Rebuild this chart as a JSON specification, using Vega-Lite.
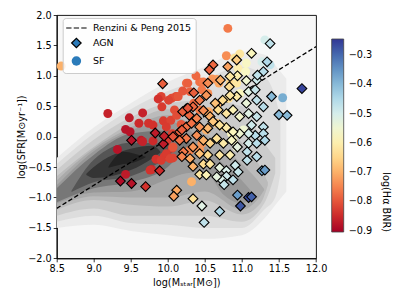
{
"$schema":"https://vega.github.io/schema/vega-lite/v6.json",
"width":259.3,"height":243.3,
"autosize":{"type":"none"},
"padding":{"left":56.7,"top":15,"right":83,"bottom":40.7},
"background":"white",
"config":{"font":"DejaVu Sans","view":{"stroke":"black","strokeWidth":0.9,"fill":"#f7f7f7"},
"legend":{"symbolBaseFillColor":"#2b7bba"},
"axis":{"labelFont":"DejaVu Sans","labelFontSize":9.7,"labelColor":"black","titleFont":"DejaVu Sans","titleFontSize":9.7,"titleFontWeight":"normal","titleColor":"black","tickColor":"black","domainColor":"black","tickSize":3.5,"tickWidth":0.8,"labelPadding":2,"grid":false,"labelFlush":false,"labelOverlap":false,"labelSeparation":-1000}},
"datasets":{
"kde":[
{"g":"L01","x":8.5,"y":-1.5,"y2":-0.35},{"g":"L01","x":9.0,"y":-1.45,"y2":0.15},{"g":"L01","x":9.5,"y":-1.55,"y2":0.55},{"g":"L01","x":10.0,"y":-1.62,"y2":0.9},{"g":"L01","x":10.5,"y":-1.68,"y2":1.15},{"g":"L01","x":11.0,"y":-1.62,"y2":1.4},{"g":"L01","x":11.3,"y":-1.35,"y2":1.35},{"g":"L01","x":11.5,"y":-1.05,"y2":1.1},{"g":"L01","x":11.6,"y":-0.9,"y2":0.95},
{"g":"L02","x":8.5,"y":-1.4,"y2":-0.45},{"g":"L02","x":9.0,"y":-1.3,"y2":0.05},{"g":"L02","x":9.5,"y":-1.42,"y2":0.45},{"g":"L02","x":10.0,"y":-1.45,"y2":0.75},{"g":"L02","x":10.5,"y":-1.5,"y2":0.95},{"g":"L02","x":11.0,"y":-1.5,"y2":1.15},{"g":"L02","x":11.3,"y":-1.2,"y2":1.0},{"g":"L02","x":11.45,"y":-1.0,"y2":0.65},{"g":"L02","x":11.52,"y":-0.6,"y2":0.3},
{"g":"L03","x":8.5,"y":-1.3,"y2":-0.55},{"g":"L03","x":9.0,"y":-1.18,"y2":-0.05},{"g":"L03","x":9.5,"y":-1.3,"y2":0.32},{"g":"L03","x":10.0,"y":-1.3,"y2":0.55},{"g":"L03","x":10.5,"y":-1.3,"y2":0.6},{"g":"L03","x":11.0,"y":-1.4,"y2":0.5},{"g":"L03","x":11.3,"y":-1.1,"y2":-0.1},{"g":"L03","x":11.45,"y":-0.6,"y2":-0.35},
{"g":"L04","x":8.5,"y":-1.2,"y2":-0.65},{"g":"L04","x":9.0,"y":-1.04,"y2":-0.17},{"g":"L04","x":9.5,"y":-1.12,"y2":0.22},{"g":"L04","x":10.0,"y":-1.15,"y2":0.45},{"g":"L04","x":10.5,"y":-1.05,"y2":0.35},{"g":"L04","x":11.0,"y":-1.28,"y2":-0.1},{"g":"L04","x":11.25,"y":-1.1,"y2":-0.5},{"g":"L04","x":11.35,"y":-0.8,"y2":-0.75},
{"g":"L05","x":8.5,"y":-1.15,"y2":-0.72},{"g":"L05","x":9.0,"y":-0.98,"y2":-0.2},{"g":"L05","x":9.5,"y":-1.0,"y2":0.15},{"g":"L05","x":10.0,"y":-1.0,"y2":0.35},{"g":"L05","x":10.5,"y":-0.9,"y2":0.05},{"g":"L05","x":11.0,"y":-1.2,"y2":-0.45},{"g":"L05","x":11.2,"y":-1.05,"y2":-0.7},{"g":"L05","x":11.3,"y":-0.88,"y2":-0.86},
{"g":"L06","x":8.5,"y":-1.1,"y2":-0.8},{"g":"L06","x":9.0,"y":-0.92,"y2":-0.24},{"g":"L06","x":9.5,"y":-0.9,"y2":0.1},{"g":"L06","x":10.0,"y":-0.7,"y2":0.25},{"g":"L06","x":10.25,"y":-0.6,"y2":0.15},{"g":"L06","x":10.5,"y":-0.58,"y2":-0.15},{"g":"L06","x":10.75,"y":-0.95,"y2":-0.45},{"g":"L06","x":11.0,"y":-1.1,"y2":-0.72},{"g":"L06","x":11.15,"y":-0.95,"y2":-0.93},
{"g":"L07","x":8.5,"y":-1.08,"y2":-0.85},{"g":"L07","x":9.0,"y":-0.85,"y2":-0.3},{"g":"L07","x":9.5,"y":-0.75,"y2":0.05},{"g":"L07","x":10.0,"y":-0.5,"y2":0.1},{"g":"L07","x":10.2,"y":-0.25,"y2":0.0},{"g":"L07","x":10.3,"y":-0.13,"y2":-0.11},
{"g":"L08","x":8.7,"y":-0.91,"y2":-0.89},{"g":"L08","x":9.0,"y":-0.75,"y2":-0.38},{"g":"L08","x":9.5,"y":-0.65,"y2":-0.1},{"g":"L08","x":10.0,"y":-0.32,"y2":-0.12},{"g":"L08","x":10.1,"y":-0.21,"y2":-0.2},
{"g":"L09","x":8.9,"y":-0.63,"y2":-0.61},{"g":"L09","x":9.0,"y":-0.68,"y2":-0.5},{"g":"L09","x":9.5,"y":-0.55,"y2":-0.2},{"g":"L09","x":9.8,"y":-0.35,"y2":-0.15},{"g":"L09","x":9.9,"y":-0.26,"y2":-0.25},
{"g":"L10","x":9.2,"y":-0.51,"y2":-0.49},{"g":"L10","x":9.4,"y":-0.45,"y2":-0.25},{"g":"L10","x":9.55,"y":-0.42,"y2":-0.28},{"g":"L10","x":9.7,"y":-0.34,"y2":-0.33}
],
"rp":[{"x":8.5,"y":-1.18},{"x":12.0,"y":1.48}],
"pts":[
{"t":"SF","x":10.81,"y":1.78,"v":-0.76},{"t":"SF","x":8.56,"y":1.16,"v":-0.70},{"t":"SF","x":9.19,"y":0.38,"v":-0.86},{"t":"SF","x":9.48,"y":0.31,"v":-0.87},{"t":"SF","x":9.66,"y":0.39,"v":-0.86},{"t":"SF","x":9.61,"y":0.22,"v":-0.85},{"t":"SF","x":9.43,"y":0.12,"v":-0.88},{"t":"SF","x":9.49,"y":0.08,"v":-0.88},{"t":"SF","x":9.74,"y":0.22,"v":-0.84},{"t":"SF","x":9.80,"y":0.19,"v":-0.84},{"t":"SF","x":9.64,"y":-0.06,"v":-0.87},{"t":"SF","x":9.66,"y":-0.08,"v":-0.86},{"t":"SF","x":9.80,"y":-0.07,"v":-0.85},{"t":"SF","x":9.32,"y":-0.21,"v":-0.88},{"t":"SF","x":9.43,"y":-0.62,"v":-0.87},{"t":"SF","x":9.78,"y":-0.54,"v":-0.85},{"t":"SF","x":9.91,"y":0.66,"v":-0.82},{"t":"SF","x":9.92,"y":0.49,"v":-0.83},{"t":"SF","x":9.94,"y":0.26,"v":-0.83},{"t":"SF","x":10.04,"y":0.27,"v":-0.82},{"t":"SF","x":9.98,"y":0.16,"v":-0.83},{"t":"SF","x":10.06,"y":0.05,"v":-0.82},{"t":"SF","x":9.99,"y":-0.06,"v":-0.83},{"t":"SF","x":10.06,"y":-0.19,"v":-0.82},{"t":"SF","x":9.84,"y":-0.37,"v":-0.84},{"t":"SF","x":9.95,"y":-0.33,"v":-0.83},{"t":"SF","x":10.02,"y":-0.35,"v":-0.82},{"t":"SF","x":10.07,"y":-0.35,"v":-0.82},{"t":"SF","x":10.09,"y":0.44,"v":-0.81},{"t":"SF","x":10.25,"y":0.88,"v":-0.78},{"t":"SF","x":10.11,"y":0.66,"v":-0.81},{"t":"SF","x":10.27,"y":0.88,"v":-0.79},{"t":"SF","x":10.43,"y":0.90,"v":-0.77},{"t":"SF","x":10.48,"y":0.90,"v":-0.76},{"t":"SF","x":10.66,"y":0.94,"v":-0.72},{"t":"SF","x":10.69,"y":0.88,"v":-0.71},{"t":"SF","x":10.79,"y":1.33,"v":-0.74},{"t":"SF","x":10.97,"y":1.36,"v":-0.62},{"t":"SF","x":10.90,"y":1.29,"v":-0.63},{"t":"SF","x":11.06,"y":1.21,"v":-0.57},{"t":"SF","x":11.27,"y":1.23,"v":-0.50},{"t":"SF","x":11.38,"y":1.18,"v":-0.47},{"t":"SF","x":11.31,"y":1.59,"v":-0.50},{"t":"SF","x":11.55,"y":0.64,"v":-0.38},{"t":"SF","x":10.05,"y":0.63,"v":-0.81},{"t":"SF","x":10.14,"y":0.66,"v":-0.80},{"t":"SF","x":10.30,"y":0.74,"v":-0.79},{"t":"SF","x":10.46,"y":0.77,"v":-0.76},{"t":"SF","x":10.54,"y":0.71,"v":-0.74},{"t":"SF","x":10.84,"y":0.88,"v":-0.65},{"t":"SF","x":10.93,"y":0.88,"v":-0.62},{"t":"SF","x":10.97,"y":0.71,"v":-0.58},{"t":"SF","x":10.82,"y":0.63,"v":-0.64},{"t":"SF","x":10.66,"y":0.52,"v":-0.70},{"t":"SF","x":10.55,"y":0.41,"v":-0.71},{"t":"SF","x":10.43,"y":0.44,"v":-0.76},{"t":"SF","x":10.66,"y":0.22,"v":-0.68},{"t":"SF","x":10.77,"y":0.16,"v":-0.63},{"t":"SF","x":10.88,"y":-0.06,"v":-0.58},{"t":"SF","x":10.93,"y":-0.17,"v":-0.56},{"t":"SF","x":10.86,"y":0.05,"v":-0.58},{"t":"SF","x":10.52,"y":0.11,"v":-0.70},{"t":"SF","x":10.46,"y":-0.11,"v":-0.73},{"t":"SF","x":10.30,"y":-0.22,"v":-0.75},{"t":"SF","x":10.32,"y":-0.74,"v":-0.70},{"t":"SF","x":10.16,"y":-0.03,"v":-0.78},{"t":"SF","x":10.07,"y":-0.17,"v":-0.80},{"t":"SF","x":9.98,"y":-0.28,"v":-0.83},{"t":"SF","x":9.91,"y":-0.39,"v":-0.83},{"t":"SF","x":9.76,"y":-0.55,"v":-0.84},{"t":"SF","x":10.03,"y":-0.36,"v":-0.82},{"t":"SF","x":11.02,"y":0.11,"v":-0.55},{"t":"SF","x":10.43,"y":-0.22,"v":-0.73},{"t":"SF","x":10.20,"y":0.75,"v":-0.80},{"t":"SF","x":10.38,"y":1.00,"v":-0.78},{"t":"SF","x":10.60,"y":0.95,"v":-0.73},{"t":"SF","x":10.95,"y":1.12,"v":-0.60},{"t":"SF","x":11.05,"y":1.07,"v":-0.57},{"t":"SF","x":10.35,"y":0.55,"v":-0.78},{"t":"SF","x":10.12,"y":0.35,"v":-0.81},{"t":"SF","x":10.18,"y":0.20,"v":-0.80},{"t":"SF","x":9.87,"y":0.62,"v":-0.84},{"t":"SF","x":10.01,"y":0.60,"v":-0.82},
{"t":"AGN","x":9.93,"y":0.87,"v":-0.79},{"t":"AGN","x":9.51,"y":-0.06,"v":-0.88},{"t":"AGN","x":9.36,"y":-0.73,"v":-0.89},{"t":"AGN","x":9.51,"y":-0.77,"v":-0.88},{"t":"AGN","x":9.70,"y":-0.82,"v":-0.84},{"t":"AGN","x":9.83,"y":0.06,"v":-0.87},{"t":"AGN","x":9.94,"y":-0.12,"v":-0.87},{"t":"AGN","x":9.95,"y":0.01,"v":-0.86},{"t":"AGN","x":9.89,"y":-0.56,"v":-0.85},{"t":"AGN","x":10.12,"y":-0.88,"v":-0.71},{"t":"AGN","x":10.08,"y":-0.98,"v":-0.72},{"t":"AGN","x":10.34,"y":-1.02,"v":-0.63},{"t":"AGN","x":10.46,"y":-1.14,"v":-0.52},{"t":"AGN","x":10.49,"y":-1.41,"v":-0.47},{"t":"AGN","x":10.70,"y":-1.23,"v":-0.45},{"t":"AGN","x":10.94,"y":-0.96,"v":-0.36},{"t":"AGN","x":10.98,"y":-1.14,"v":-0.28},{"t":"AGN","x":11.09,"y":-1.0,"v":-0.27},{"t":"AGN","x":11.13,"y":-0.99,"v":-0.29},{"t":"AGN","x":11.81,"y":0.79,"v":-0.26},{"t":"AGN","x":11.27,"y":-0.56,"v":-0.37},{"t":"AGN","x":11.31,"y":-0.55,"v":-0.36},{"t":"AGN","x":11.50,"y":0.36,"v":-0.40},{"t":"AGN","x":11.61,"y":0.35,"v":-0.40},{"t":"AGN","x":11.40,"y":0.66,"v":-0.40},{"t":"AGN","x":11.38,"y":1.53,"v":-0.47},{"t":"AGN","x":11.34,"y":1.23,"v":-0.45},{"t":"AGN","x":11.29,"y":1.07,"v":-0.46},{"t":"AGN","x":11.13,"y":1.37,"v":-0.58},{"t":"AGN","x":10.93,"y":1.26,"v":-0.66},{"t":"AGN","x":10.81,"y":1.15,"v":-0.72},{"t":"AGN","x":10.61,"y":1.18,"v":-0.78},{"t":"AGN","x":10.56,"y":1.10,"v":-0.79},{"t":"AGN","x":10.54,"y":0.88,"v":-0.74},{"t":"AGN","x":10.71,"y":0.93,"v":-0.70},{"t":"AGN","x":10.83,"y":0.82,"v":-0.64},{"t":"AGN","x":10.94,"y":1.0,"v":-0.60},{"t":"AGN","x":11.06,"y":0.92,"v":-0.55},{"t":"AGN","x":11.09,"y":0.74,"v":-0.52},{"t":"AGN","x":11.18,"y":0.77,"v":-0.48},{"t":"AGN","x":11.20,"y":0.93,"v":-0.49},{"t":"AGN","x":11.20,"y":0.60,"v":-0.47},{"t":"AGN","x":11.29,"y":0.49,"v":-0.46},{"t":"AGN","x":11.06,"y":0.55,"v":-0.54},{"t":"AGN","x":10.93,"y":0.66,"v":-0.61},{"t":"AGN","x":10.84,"y":0.68,"v":-0.62},{"t":"AGN","x":10.74,"y":0.60,"v":-0.64},{"t":"AGN","x":10.64,"y":0.55,"v":-0.68},{"t":"AGN","x":10.52,"y":0.68,"v":-0.73},{"t":"AGN","x":10.43,"y":0.60,"v":-0.76},{"t":"AGN","x":10.35,"y":0.72,"v":-0.79},{"t":"AGN","x":10.34,"y":0.49,"v":-0.78},{"t":"AGN","x":10.25,"y":0.46,"v":-0.80},{"t":"AGN","x":10.20,"y":0.41,"v":-0.79},{"t":"AGN","x":10.29,"y":0.35,"v":-0.78},{"t":"AGN","x":10.39,"y":0.30,"v":-0.75},{"t":"AGN","x":10.48,"y":0.43,"v":-0.74},{"t":"AGN","x":10.57,"y":0.33,"v":-0.70},{"t":"AGN","x":10.68,"y":0.44,"v":-0.64},{"t":"AGN","x":10.79,"y":0.38,"v":-0.62},{"t":"AGN","x":10.88,"y":0.44,"v":-0.59},{"t":"AGN","x":10.97,"y":0.33,"v":-0.56},{"t":"AGN","x":11.09,"y":0.38,"v":-0.52},{"t":"AGN","x":11.20,"y":0.33,"v":-0.48},{"t":"AGN","x":11.13,"y":0.19,"v":-0.49},{"t":"AGN","x":11.29,"y":0.16,"v":-0.47},{"t":"AGN","x":11.18,"y":0.02,"v":-0.46},{"t":"AGN","x":11.29,"y":0.05,"v":-0.46},{"t":"AGN","x":11.31,"y":-0.06,"v":-0.45},{"t":"AGN","x":11.09,"y":0.05,"v":-0.50},{"t":"AGN","x":11.09,"y":-0.11,"v":-0.50},{"t":"AGN","x":11.20,"y":-0.11,"v":-0.46},{"t":"AGN","x":10.97,"y":0.05,"v":-0.55},{"t":"AGN","x":10.88,"y":0.08,"v":-0.58},{"t":"AGN","x":10.79,"y":0.15,"v":-0.61},{"t":"AGN","x":10.70,"y":0.19,"v":-0.63},{"t":"AGN","x":10.61,"y":0.25,"v":-0.67},{"t":"AGN","x":10.54,"y":0.14,"v":-0.69},{"t":"AGN","x":10.43,"y":0.16,"v":-0.73},{"t":"AGN","x":10.25,"y":0.16,"v":-0.77},{"t":"AGN","x":10.16,"y":0.08,"v":-0.78},{"t":"AGN","x":10.07,"y":0.0,"v":-0.80},{"t":"AGN","x":10.25,"y":-0.03,"v":-0.76},{"t":"AGN","x":10.39,"y":0.02,"v":-0.74},{"t":"AGN","x":10.48,"y":-0.06,"v":-0.70},{"t":"AGN","x":10.57,"y":-0.11,"v":-0.65},{"t":"AGN","x":10.66,"y":-0.03,"v":-0.63},{"t":"AGN","x":10.75,"y":-0.11,"v":-0.61},{"t":"AGN","x":10.86,"y":-0.06,"v":-0.57},{"t":"AGN","x":10.94,"y":-0.17,"v":-0.53},{"t":"AGN","x":10.84,"y":-0.30,"v":-0.60},{"t":"AGN","x":10.70,"y":-0.30,"v":-0.62},{"t":"AGN","x":10.54,"y":-0.30,"v":-0.64},{"t":"AGN","x":10.43,"y":-0.28,"v":-0.68},{"t":"AGN","x":10.34,"y":-0.17,"v":-0.73},{"t":"AGN","x":10.21,"y":-0.25,"v":-0.76},{"t":"AGN","x":10.19,"y":-0.33,"v":-0.75},{"t":"AGN","x":10.30,"y":-0.36,"v":-0.71},{"t":"AGN","x":10.34,"y":-0.49,"v":-0.70},{"t":"AGN","x":10.48,"y":-0.45,"v":-0.64},{"t":"AGN","x":10.57,"y":-0.45,"v":-0.62},{"t":"AGN","x":10.70,"y":-0.51,"v":-0.53},{"t":"AGN","x":10.79,"y":-0.56,"v":-0.51},{"t":"AGN","x":10.91,"y":-0.47,"v":-0.49},{"t":"AGN","x":10.95,"y":-0.58,"v":-0.48},{"t":"AGN","x":11.07,"y":-0.25,"v":-0.47},{"t":"AGN","x":11.20,"y":-0.33,"v":-0.46},{"t":"AGN","x":11.07,"y":-0.39,"v":-0.47},{"t":"AGN","x":10.79,"y":-0.65,"v":-0.49},{"t":"AGN","x":10.73,"y":-0.71,"v":-0.51},{"t":"AGN","x":10.76,"y":-0.79,"v":-0.48},{"t":"AGN","x":10.88,"y":-0.71,"v":-0.47},{"t":"AGN","x":10.43,"y":-0.62,"v":-0.62},{"t":"AGN","x":10.52,"y":-0.63,"v":-0.59},{"t":"AGN","x":10.66,"y":-0.66,"v":-0.53},{"t":"AGN","x":10.19,"y":0.11,"v":-0.79},{"t":"AGN","x":10.16,"y":-0.06,"v":-0.77},{"t":"AGN","x":10.84,"y":0.99,"v":-0.62},{"t":"AGN","x":11.21,"y":1.01,"v":-0.47},{"t":"AGN","x":10.27,"y":0.47,"v":-0.80},{"t":"AGN","x":10.32,"y":0.22,"v":-0.77}
]},
"encoding":{
 "x":{"field":"x","type":"quantitative","scale":{"domain":[8.5,12],"nice":false,"zero":false},
  "axis":{"values":[8.5,9,9.5,10,10.5,11,11.5,12],"format":".1f","labelOverlap":false,"labelSeparation":-1000,"labelFlush":false,"title":"log(Mₛₜₐᵣ[M⊙])","titlePadding":4}},
 "y":{"field":"y","type":"quantitative","scale":{"domain":[-2,2],"nice":false,"zero":false},
  "axis":{"values":[-2,-1.5,-1,-0.5,0,0.5,1,1.5,2],"format":".1f","labelOverlap":false,"labelSeparation":-1000,"labelExpr":"replace(datum.label,'-','−')","title":"log(SFR[M⊙yr⁻¹])","titlePadding":1}}
},
"layer":[
{"data":{"name":"kde"},"mark":{"type":"area","interpolate":"monotone","strokeWidth":0,"clip":true},
 "encoding":{
  "y2":{"field":"y2"},
  "fill":{"field":"g","type":"nominal","legend":null,"scale":{"domain":["L01","L02","L03","L04","L05","L06","L07","L08","L09","L10"],"range":["#ebebeb","#dddddd","#cccccc","#bbbbbb","#aaaaaa","#999999","#777777","#555555","#353535","#222222"]}}
 }},
{"data":{"name":"rp"},"mark":{"type":"line","color":"black","strokeWidth":1.3,"strokeDash":[4.5,2.4],"clip":true},
 "encoding":{}},
{"data":{"name":"pts"},
 "mark":{"type":"point","filled":true,"opacity":1,"strokeWidth":1.1},
 "encoding":{
  "size":{"condition":{"test":"datum.t==='AGN'","value":95},"value":80},
  "color":{"field":"v","type":"quantitative","scale":{"scheme":"redyellowblue","domain":[-0.905,-0.245]},
   "legend":{"orient":"none","legendX":275,"legendY":24,"direction":"vertical","gradientLength":193,"gradientThickness":12,"gradientStrokeColor":"#444","gradientStrokeWidth":0.8,"values":[-0.9,-0.8,-0.7,-0.6,-0.5,-0.4,-0.3],"format":".1f","labelExpr":"replace(datum.label,'-','−')","labelFont":"DejaVu Sans","labelFontSize":9.7,"labelColor":"black","labelOffset":5,"labelBaseline":"middle","labelOverlap":false,"title":"\u00a0\u00a0\u00a0\u00a0\u00a0\u00a0\u00a0\u00a0\u00a0\u00a0\u00a0\u00a0\u00a0\u00a0\u00a0\u00a0\u00a0\u00a0\u00a0\u00a0log(Hα BNR)","titleFont":"DejaVu Sans","titleFontSize":9.7,"titleFontWeight":"normal","titleColor":"black","titleOrient":"right","titleAngle":270,"titleAnchor":"start","titlePadding":8,"padding":0}},
  "shape":{"field":"t","type":"nominal","scale":{"domain":["Renzini & Peng 2015","AGN","SF"],"range":["M-2.15,0H-1.03M-0.56,0H0.56M1.03,0H2.15","diamond","circle"]},
   "legend":{"orient":"none","legendX":6,"legendY":3,"title":null,"padding":4.5,"symbolSize":90,"symbolStrokeWidth":1.2,"symbolOffset":3.7,"labelOffset":11,"rowPadding":3,"labelFont":"DejaVu Sans","labelFontSize":9.5,"labelColor":"black","fillColor":"rgba(255,255,255,0.8)","strokeColor":"#cccccc","cornerRadius":3}},
  "stroke":{"field":"t","type":"nominal","scale":{"domain":["Renzini & Peng 2015","AGN","SF"],"range":["black","black","transparent"]},
   "legend":{"orient":"none","legendX":6,"legendY":3,"title":null,"padding":4.5,"symbolSize":90,"symbolStrokeWidth":1.2,"symbolOffset":3.7,"labelOffset":11,"rowPadding":3,"labelFont":"DejaVu Sans","labelFontSize":9.5,"labelColor":"black","fillColor":"rgba(255,255,255,0.8)","strokeColor":"#cccccc","cornerRadius":3}}
 }}
]
}
